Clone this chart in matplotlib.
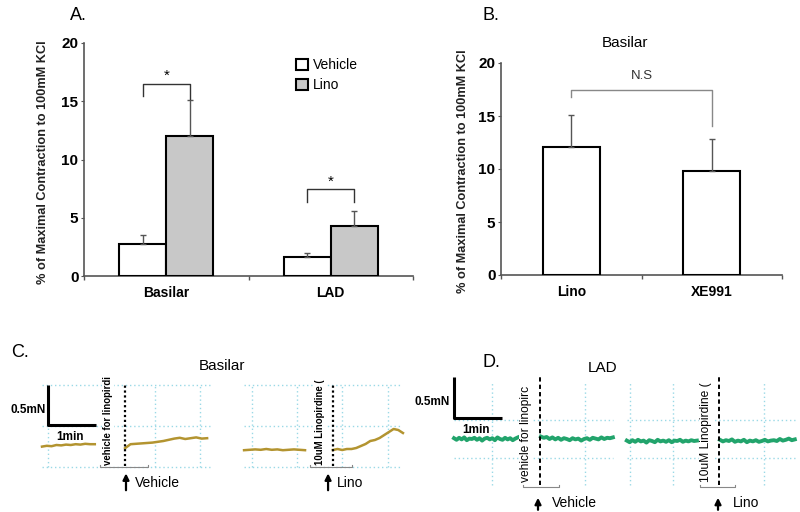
import numpy as np
import matplotlib
matplotlib.use('Agg')
import matplotlib.pyplot as plt
from matplotlib import font_manager
from matplotlib.patches import Patch

# Figure size in pixels (dpi 100)
W, H = 800, 512

# ---- Panel A: contraction (% of 100mM KCl) ----
groups_a = ['Basilar', 'LAD']
vehicle_mean = [2.75, 1.65]
vehicle_err = [0.75, 0.30]
lino_mean = [12.05, 4.30]
lino_err = [3.05, 1.30]

# ---- Panel B: Basilar, Lino vs XE991 ----
groups_b = ['Lino', 'XE991']
b_mean = [12.05, 9.85]
b_err = [3.05, 2.95]

# ---- Panel C: Basilar traces (force in mN, time in min) ----
c_vehicle_pre = [-0.02, -0.01, -0.015, 0.0, -0.005, 0.005, 0.0, 0.01, 0.005, 0.015, 0.01, 0.01]
c_vehicle_post = [-0.04, 0.01, 0.015, 0.02, 0.025, 0.03, 0.04, 0.05, 0.065, 0.08, 0.09, 0.075,
                  0.085, 0.095, 0.08, 0.085]
c_lino_pre = [-0.065, -0.06, -0.055, -0.06, -0.05, -0.06, -0.055, -0.065, -0.06, -0.055, -0.06, -0.065]
c_lino_post = [-0.0625, -0.05, -0.0625, -0.05, -0.05, -0.0375, -0.0125, 0.0125, 0.05, 0.0625,
               0.0875, 0.125, 0.1625, 0.2, 0.1875, 0.15]
c_times = [(0.0, 1.1), (1.73, 3.44), (4.21, 5.48), (6.06, 7.52)]

# ---- Panel D: LAD traces ----
d_vehicle_pre = [0.01, -0.01, 0.015, -0.005, 0.02, -0.015, 0.005, 0.0, 0.015, -0.01, 0.01, -0.02, 0.005,
                 0.015, -0.005, 0.01, -0.015, 0.02, 0.0, -0.01, 0.015, -0.005, 0.01, -0.015, 0.005, 0.02]
d_vehicle_post = [0.03, 0.015, 0.025, 0.0, 0.02, -0.005, 0.015, -0.01, 0.01, 0.0, -0.015, 0.01, -0.005,
                  0.005, -0.02, 0.0, 0.01, -0.01, 0.015, 0.005, -0.005, 0.02, 0.0, 0.015, 0.01, 0.02]
d_lino_pre = [-0.02, -0.04, -0.015, -0.035, -0.01, -0.03, -0.02, -0.045, -0.015, -0.025, -0.04, -0.01, -0.03,
              -0.02, -0.035, -0.015, -0.04, -0.02, -0.025, -0.01, -0.035, -0.02, -0.03, -0.015, -0.025, -0.02]
d_lino_post = [-0.01, -0.03, -0.015, -0.025, -0.005, -0.035, -0.02, -0.03, -0.01, -0.04, -0.02, -0.03, -0.015,
               -0.035, -0.025, -0.01, -0.03, -0.02, -0.015, -0.025, 0.0, -0.02, -0.01, 0.005, -0.015, -0.005]
d_times = [(0.0, 1.33), (1.81, 3.31), (3.6, 5.06), (5.54, 7.1)]

plt.rcParams['font.family'] = ['Liberation Sans', 'DejaVu Sans']

# narrow font for the rotated trace labels, if available
font_names = {f.name for f in font_manager.fontManager.ttflist}
if 'Liberation Sans Narrow' in font_names:
    NARROW, NARROW_SCALE = ['Liberation Sans Narrow', 'DejaVu Sans'], 1.0
else:
    NARROW, NARROW_SCALE = ['Liberation Sans', 'DejaVu Sans'], 0.82

GRID = '#9ad9e6'
AXIS = '#555555'


def px_axes(fig, x0, y0, x1, y1):
    """Axes placed by pixel box (top-left origin)"""
    return fig.add_axes([x0 / W, 1 - y1 / H, (x1 - x0) / W, (y1 - y0) / H])


def style_bar_axes(ax, groups, ylabel_x):
    ax.set_xlim(-0.5, len(groups) - 0.5)
    ax.set_ylim(0, 20)
    ax.set_xticks(np.arange(len(groups)))
    ax.set_xticklabels(groups, fontweight='bold', fontsize=10)
    ax.set_xticks(np.arange(len(groups) + 1) - 0.5, minor=True)
    ax.tick_params(axis='x', which='major', length=0, pad=7)
    ax.tick_params(axis='x', which='minor', length=3, color=AXIS, width=1)
    ax.set_yticks([0, 5, 10, 15, 20])
    ax.tick_params(axis='y', length=2.5, pad=1.5, color=AXIS, labelsize=11)
    for lab in ax.get_yticklabels():
        lab.set_fontweight('bold')
    for s in ['top', 'right']:
        ax.spines[s].set_visible(False)
    for s in ['left', 'bottom']:
        ax.spines[s].set_color(AXIS)
        ax.spines[s].set_linewidth(1.2)
    ax.set_ylabel('% of Maximal Contraction to 100mM KCl', fontsize=9.2,
                  fontweight='bold', color='#222222')
    ax.yaxis.set_label_coords(ylabel_x, 0.49)


def bracket(ax, x0, x1, top, left_end, right_end, color='#333333'):
    ax.plot([x0, x0, x1, x1], [left_end, top, top, right_end], color=color, lw=1, zorder=5)


def plot_panel_a(fig):
    ax = px_axes(fig, 84, 43, 413, 276)
    x = np.arange(len(groups_a))
    w = 0.285
    ax.bar(x - w / 2, vehicle_mean, w, color='white', edgecolor='black', lw=1.5, label='Vehicle', zorder=3)
    ax.bar(x + w / 2, lino_mean, w, color='#c8c8c8', edgecolor='black', lw=1.5, label='Lino', zorder=3)
    ax.errorbar(x - w / 2, vehicle_mean, yerr=[np.zeros(len(x)), vehicle_err], fmt='none',
                ecolor=AXIS, elinewidth=1, capsize=2.5, capthick=1, zorder=4)
    ax.errorbar(x + w / 2, lino_mean, yerr=[np.zeros(len(x)), lino_err], fmt='none',
                ecolor=AXIS, elinewidth=1, capsize=2.5, capthick=1, zorder=4)
    style_bar_axes(ax, groups_a, -0.106)

    # significance
    bracket(ax, -w / 2, w / 2, 16.5, 15.45, 15.2)
    ax.text(0, 17.2, '*', ha='center', va='center', fontsize=11)
    bracket(ax, 1 - w / 2, 1 + w / 2, 7.5, 6.35, 6.35)
    ax.text(1, 8.1, '*', ha='center', va='center', fontsize=11)

    handles = [Patch(facecolor='white', edgecolor='black', lw=1.5),
               Patch(facecolor='#c8c8c8', edgecolor='black', lw=1.5)]
    ax.legend(handles, ['Vehicle', 'Lino'], loc='upper left', bbox_to_anchor=(0.643, 0.935),
              frameon=False, fontsize=10, handlelength=0.9, handleheight=0.9,
              handletextpad=0.35, labelspacing=0.45, borderpad=0, borderaxespad=0)


def plot_panel_b(fig):
    ax = px_axes(fig, 501, 63, 782, 275)
    x = np.arange(len(groups_b))
    w = 0.405
    ax.bar(x, b_mean, w, color='white', edgecolor='black', lw=1.5, zorder=3)
    ax.errorbar(x, b_mean, yerr=[np.zeros(len(x)), b_err], fmt='none',
                ecolor=AXIS, elinewidth=1, capsize=2.5, capthick=1, zorder=4)
    style_bar_axes(ax, groups_b, -0.114)

    bracket(ax, 0, 1, 17.45, 16.8, 14.05, color='#888888')
    ax.text(0.5, 18.8, 'N.S', ha='center', va='center', fontsize=9.5, color='#333333')
    ax.text(0.38, 21.9, 'Basilar', ha='center', va='center', fontsize=11, clip_on=False)


def trace_label(ax, t, f, text, weight, size):
    ax.text(t, f, text, rotation=90, ha='center', va='bottom', family=NARROW,
            fontsize=size * NARROW_SCALE, fontweight=weight,
            bbox=dict(facecolor='white', edgecolor='none', pad=0.5), zorder=4)


def plot_panel_c(fig):
    ax = px_axes(fig, 0, 330, 410, 512)
    ax.set_xlim(-0.875, 7.667)
    ax.set_ylim(-0.8375, 1.4375)
    ax.axis('off')

    gls = (0, (1, 2))
    ax.hlines([0.75, 0.24, -0.275], 0.0, 3.5, colors=GRID, linestyles=gls, lw=1)
    ax.hlines([0.75, 0.24, -0.275], 4.21, 7.46, colors=GRID, linestyles=gls, lw=1)
    ax.vlines([0.125, 2.35, 3.29, 4.375, 5.31, 6.25, 7.21], -0.275, 0.75, colors=GRID, linestyles=gls, lw=1)

    for (t0, t1), vals in zip(c_times, [c_vehicle_pre, c_vehicle_post, c_lino_pre, c_lino_post]):
        ax.plot(np.linspace(t0, t1, len(vals)), vals, color='#b39430', lw=1.8, zorder=3)

    ax.vlines([1.73, 6.06], -0.26, 0.76, colors='black', linestyles=(0, (1, 1.2)), lw=1.6, zorder=5)

    # scale bar
    ax.plot([0.125, 0.125, 1.125], [0.75, 0.25, 0.25], color='black', lw=2.2, solid_capstyle='butt')
    ax.text(0.08, 0.44, '0.5mN', ha='right', va='center', fontsize=8.5, fontweight='bold')
    ax.text(0.58, 0.1, '1min', ha='center', va='center', fontsize=8.5, fontweight='bold')

    trace_label(ax, 1.375, -0.25, 'vehicle for linopirdi', 'bold', 8.5)
    trace_label(ax, 5.79, -0.25, '10uM Linopirdine (', 'bold', 8.5)
    for t0, t1 in [(1.21, 2.21), (5.58, 6.46)]:
        ax.plot([t0, t0, t1, t1], [-0.25, -0.275, -0.275, -0.25], color='#888888', lw=0.8)

    for t, lab in [(1.75, 'Vehicle'), (5.96, 'Lino')]:
        ax.annotate('', xy=(t, -0.32), xytext=(t, -0.6),
                    arrowprops=dict(arrowstyle='-|>', color='black', lw=1.6, mutation_scale=9))
        ax.text(t + 0.19, -0.475, lab, ha='left', va='center', fontsize=10)

    ax.text(-0.45, 1.16, 'C.', ha='center', va='center', fontsize=13)
    ax.text(3.75, 0.99, 'Basilar', ha='center', va='center', fontsize=11)


def plot_panel_d(fig):
    ax = px_axes(fig, 410, 330, 800, 512)
    ax.set_xlim(-0.9167, 7.208)
    ax.set_ylim(-0.9125, 1.3625)
    ax.axis('off')

    gls = (0, (1, 2))
    ax.hlines([0.2375, -0.2375], 0.0, 3.31, colors=GRID, linestyles=gls, lw=1)
    ax.hlines([0.2375, -0.2375], 3.6, 7.1, colors=GRID, linestyles=gls, lw=1)
    ax.vlines([0.79, 2.73, 3.67, 4.56, 6.46], -0.575, 0.7, colors=GRID, linestyles=gls, lw=1)

    for (t0, t1), vals in zip(d_times, [d_vehicle_pre, d_vehicle_post, d_lino_pre, d_lino_post]):
        ax.plot(np.linspace(t0, t1, len(vals)), vals, color='#22a46c', lw=2.8, zorder=3)

    ax.vlines([1.79, 5.52], -0.575, 0.775, colors='black', linestyles=(0, (2.2, 1.6)), lw=1.4, zorder=5)

    ax.plot([0, 0, 1], [0.775, 0.26, 0.26], color='black', lw=2.2, solid_capstyle='butt')
    ax.text(-0.083, 0.46, '0.5mN', ha='right', va='center', fontsize=8.5, fontweight='bold')
    ax.text(0.46, 0.11, '1min', ha='center', va='center', fontsize=8.5, fontweight='bold')

    trace_label(ax, 1.5, -0.54, 'vehicle for linopirc', 'normal', 10.5)
    trace_label(ax, 5.25, -0.54, '10uM Linopirdine (', 'normal', 10.5)
    for t0, t1 in [(1.44, 2.19), (5.125, 5.85)]:
        ax.plot([t0, t0, t1, t1], [-0.575, -0.6, -0.6, -0.575], color='#888888', lw=0.8)

    for t, lab in [(1.75, 'Vehicle'), (5.5, 'Lino')]:
        ax.annotate('', xy=(t, -0.7), xytext=(t, -0.92),
                    arrowprops=dict(arrowstyle='-|>', color='black', lw=1.6, mutation_scale=9))
        ax.text(t + 0.3, -0.8, lab, ha='left', va='center', fontsize=10)

    ax.text(0.77, 0.96, 'D.', ha='center', va='center', fontsize=13)
    ax.text(3.1, 0.89, 'LAD', ha='center', va='center', fontsize=11)


fig = plt.figure(figsize=(W / 100, H / 100), dpi=100)
plot_panel_a(fig)
plot_panel_b(fig)
plot_panel_c(fig)
plot_panel_d(fig)
fig.text(78 / W, 1 - 15 / H, 'A.', ha='center', va='center', fontsize=13)
fig.text(491 / W, 1 - 15 / H, 'B.', ha='center', va='center', fontsize=13)

fig.savefig('out.png', dpi=100)
